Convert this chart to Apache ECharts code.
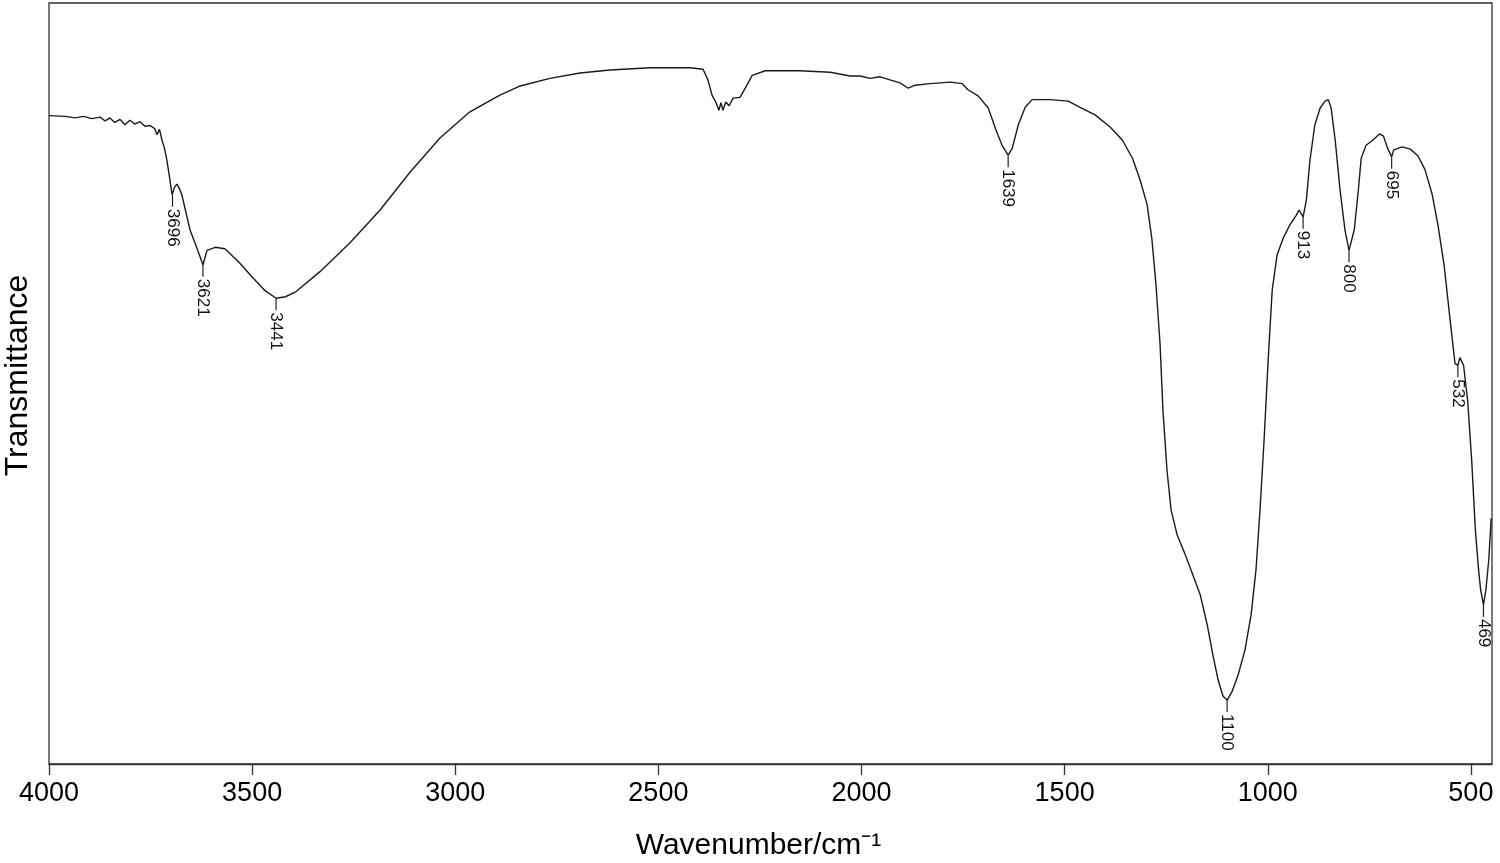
<!DOCTYPE html>
<html>
<head>
<meta charset="utf-8">
<script src="https://cdn.jsdelivr.net/npm/echarts@6/dist/echarts.min.js"></script>
<style>html,body{margin:0;padding:0;background:#fff}#c{width:1500px;height:863px}</style>
</head>
<body>
<div id="c"></div>
<script>
// Wavenumber (cm^-1) and transmittance (arbitrary %)
var wavenumber = [4000,3960,3936,3915,3895,3874,3862,3850,3838,3825,3813,3801,3789,3776,3764,3751,3740,3734,3728,3722,3716,3710,3703,3697,3691,3685,3679,3673,3663,3653,3636,3621,3611,3591,3567,3530,3500,3468,3441,3418,3394,3333,3259,3185,3111,3037,2964,2890,2840,2767,2693,2619,2520,2422,2390,2378,2368,2358,2351,2346,2341,2334,2326,2316,2299,2282,2269,2237,2151,2077,2028,2003,1979,1954,1930,1905,1885,1868,1831,1782,1752,1738,1713,1688,1669,1654,1639,1629,1614,1597,1580,1536,1491,1462,1425,1388,1358,1333,1314,1297,1285,1275,1265,1258,1248,1238,1223,1203,1184,1166,1149,1135,1122,1110,1100,1088,1073,1056,1041,1029,1019,1009,999,989,977,962,946,930,923,913,905,896,884,871,859,851,844,834,822,810,800,787,777,770,758,741,725,715,705,695,690,669,649,630,613,595,581,566,551,539,532,527,518,508,498,489,481,476,469,463,456,450];
var transmittance = [85.2,85.1,84.9,85.1,84.8,85.0,84.5,84.9,84.3,84.7,84.0,84.6,84.1,84.4,83.8,83.9,83.5,82.7,83.4,82.0,81.0,79.4,77.0,74.8,75.8,76.2,75.6,74.8,72.5,70.2,67.8,65.6,67.5,67.9,67.7,65.8,64.0,62.2,61.2,61.4,62.0,64.7,68.5,72.8,77.8,82.3,85.7,87.9,89.1,90.1,90.8,91.2,91.5,91.5,91.3,89.9,87.9,86.9,85.9,86.9,85.9,87.0,86.5,87.5,87.6,89.2,90.5,91.1,91.1,90.9,90.4,90.4,90.1,90.3,89.9,89.5,88.8,89.2,89.4,89.6,89.4,88.6,87.8,86.2,83.3,81.3,80.0,80.9,84.0,86.3,87.3,87.3,87.1,86.3,85.3,83.7,82.0,79.6,76.7,73.5,68.9,62.9,55.1,46.5,38.6,33.4,30.1,27.5,24.8,22.2,18.3,14.3,11.0,8.9,8.4,9.5,11.7,15.0,19.6,25.5,33.4,42.6,53.1,62.3,66.9,69.1,70.8,72.1,72.8,71.9,74.1,79.4,84.0,86.2,87.1,87.3,86.2,82.0,75.4,70.2,67.5,70.2,75.4,79.6,81.3,82.0,82.8,82.5,80.9,79.8,80.7,81.1,80.8,79.9,78.1,74.8,70.8,65.6,58.3,52.6,52.4,53.4,52.4,47.8,39.9,30.8,25.5,22.9,20.9,22.9,26.8,32.3];
// Peak annotations
var peakWavenumber = [3696,3621,3441,1639,1100,913,800,695,532,469];
var peakTransmittance = [74.8,65.6,61.2,80.0,8.4,71.9,67.5,79.8,52.4,20.9];
var peakLabels = ['3696','3621','3441','1639','1100','913','800','695','532','469'];
var xTickValues = [4000,3500,3000,2500,2000,1500,1000,500];

var spectrum = wavenumber.map(function(w,i){return [w, transmittance[i]];});
var peaks = peakWavenumber.map(function(w,i){return [w, peakTransmittance[i]];});
var FONT = "'Liberation Sans', Arial, Helvetica, sans-serif";

var chart = echarts.init(document.getElementById('c'));
chart.setOption({
  animation: false,
  backgroundColor: '#fff',
  grid: {left: 49, right: 8, top: 3, bottom: 99, show: true, borderColor: '#333', borderWidth: 1.3,
         backgroundColor: 'transparent', containLabel: false, outerBoundsMode: 'none'},
  xAxis: {
    type: 'value', inverse: true, min: 448, max: 4000,
    axisLine: {show: true, lineStyle: {color: '#333', width: 1.3}},
    axisTick: {show: true, inside: false, length: 11, lineStyle: {color: '#333', width: 1.3}, customValues: xTickValues},
    axisLabel: {show: true, fontSize: 27, color: '#000', fontFamily: FONT, margin: 16, customValues: xTickValues,
                formatter: function(v){ return String(v); }},
    splitLine: {show: false},
    name: 'Wavenumber/cm\u207B\u00B9', nameLocation: 'middle', nameGap: 67,
    nameTextStyle: {fontSize: 30, color: '#000', fontFamily: FONT, padding: [0, 24, 0, 0]}
  },
  yAxis: {
    type: 'value', min: 0, max: 100,
    axisLine: {show: false}, axisTick: {show: false}, axisLabel: {show: false}, splitLine: {show: false},
    name: 'Transmittance', nameLocation: 'middle', nameGap: 15,
    nameTextStyle: {fontSize: 32, color: '#000', fontFamily: FONT, padding: [0, 0, 0, 16]}
  },
  series: [
    {type: 'line', data: spectrum, showSymbol: false, symbol: 'none', smooth: false,
     lineStyle: {color: '#1a1a1a', width: 1.4}},
    {type: 'custom', data: peaks, clip: false,
     renderItem: function(params, api){
       var p = api.coord([api.value(0), api.value(1)]);
       return {type: 'group', children: [
         {type: 'line', shape: {x1: p[0], y1: p[1], x2: p[0], y2: p[1] + 12}, style: {stroke: '#222', lineWidth: 1.2}},
         {type: 'text', x: p[0], y: p[1] + 14, rotation: -Math.PI/2,
          style: {text: peakLabels[params.dataIndex], fontSize: 17, fontFamily: FONT, fill: '#111', align: 'left', verticalAlign: 'middle'}}
       ]};
     }}
  ]
});
</script>
</body>
</html>
